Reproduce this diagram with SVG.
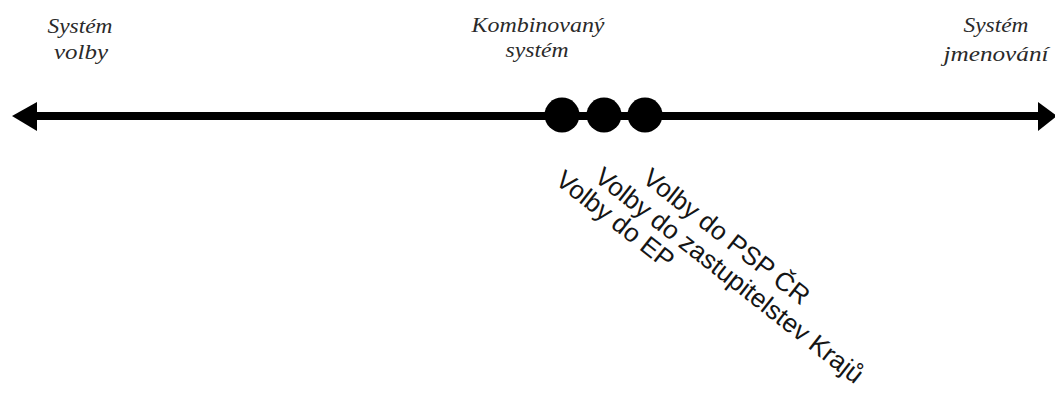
<svg xmlns="http://www.w3.org/2000/svg" width="1055" height="396" viewBox="0 0 1055 396">
<style>
.lbl{font-family:"Liberation Serif",serif;font-style:italic;font-size:22px;fill:#2a2a2a;text-anchor:middle}
.rot{font-family:"Liberation Sans",Arial,sans-serif;font-size:26px;fill:#151515}
.dot{fill:#000}
</style>
<rect width="1055" height="396" fill="#fff"/>
<g id="connectors">
<line x1="30" y1="116" x2="1045" y2="116" stroke="#000" stroke-width="8"/>
<polygon points="12,116 37,102 37,131" fill="#000"/>
<polygon points="1057,116 1038,102 1038,131" fill="#000"/>
</g>
<g id="node-volby"><text class="lbl" x="80" y="33" textLength="65" lengthAdjust="spacingAndGlyphs">Systém</text><text class="lbl" x="81" y="59" textLength="54" lengthAdjust="spacingAndGlyphs">volby</text></g>
<g id="node-kombinovany"><text class="lbl" x="538" y="32" textLength="133" lengthAdjust="spacingAndGlyphs">Kombinovaný</text><text class="lbl" x="537" y="57" textLength="63" lengthAdjust="spacingAndGlyphs">systém</text></g>
<g id="node-jmenovani"><text class="lbl" x="996" y="32" textLength="65" lengthAdjust="spacingAndGlyphs">Systém</text><text class="lbl" x="996" y="61" textLength="105" lengthAdjust="spacingAndGlyphs">jmenování</text></g>
<g id="node-ep"><circle class="dot" cx="562" cy="115" r="17.5"/><text class="rot" transform="translate(554,183) rotate(38)">Volby do EP</text></g>
<g id="node-kraje"><circle class="dot" cx="604" cy="115" r="17.5"/><text class="rot" transform="translate(593,180) rotate(38)">Volby do zastupitelstev Krajů</text></g>
<g id="node-psp"><circle class="dot" cx="645" cy="115" r="17.5"/><text class="rot" transform="translate(641,181) rotate(38)">Volby do PSP ČR</text></g>
</svg>
